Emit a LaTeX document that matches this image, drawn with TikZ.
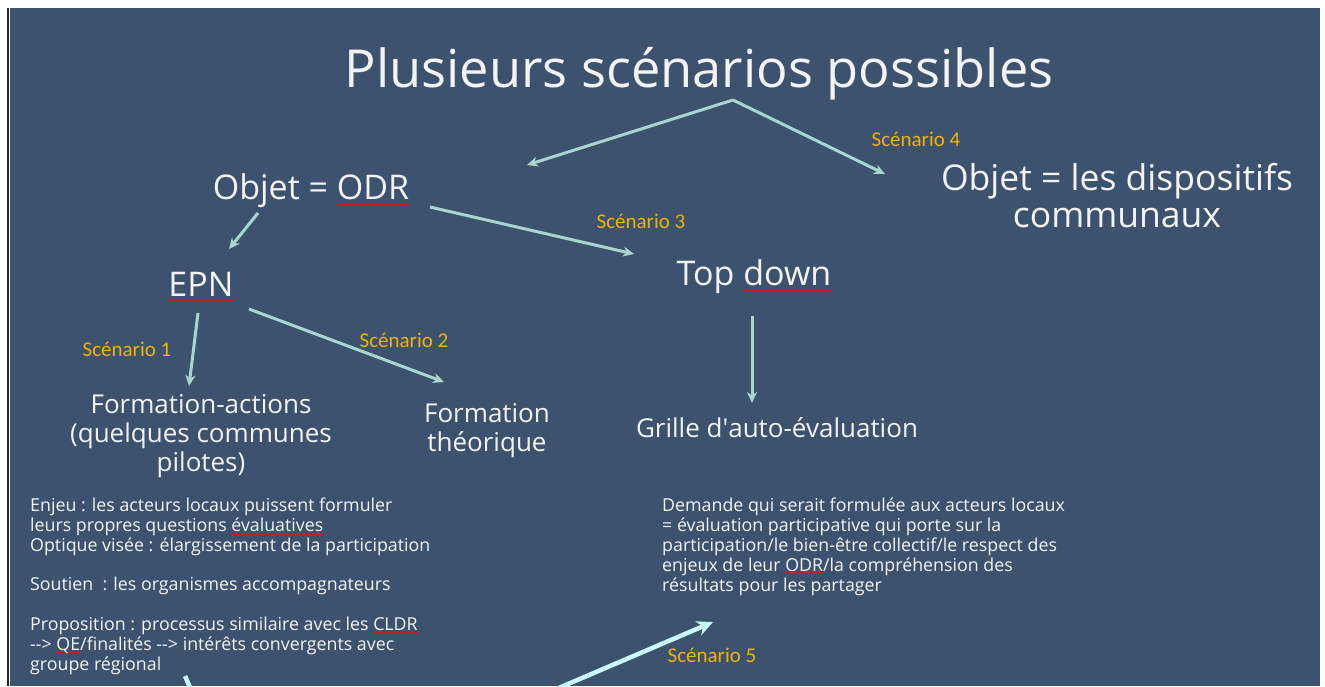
\documentclass[tikz,border=0pt]{standalone}
\usepackage{fontspec}
\setmainfont{Open Sans}
\newfontfamily\calib{Carlito}
\usetikzlibrary{arrows.meta}

\definecolor{slide}{RGB}{61,82,110}
\definecolor{arrowteal}{RGB}{168,214,206}
\definecolor{brightcyan}{RGB}{200,250,255}
\definecolor{scenorange}{RGB}{240,180,0}
\definecolor{textwhite}{RGB}{243,243,243}
\definecolor{spellred}{RGB}{205,25,35}
\definecolor{frameline}{RGB}{35,40,46}

% red spell-check underline
\newsavebox{\redbox}
\newcommand{\redul}[1]{\leavevmode\sbox{\redbox}{#1}\rlap{\color{spellred}\rule[-0.18em]{\wd\redbox}{\dimexpr1.4pt+0.03em\relax}}\usebox{\redbox}}

\begin{document}
\begin{tikzpicture}[x=1pt, y=-1pt, >={Stealth[length=11pt,width=10pt]},
  label/.style={text=textwhite, inner sep=0pt, anchor=base},
  big/.style={label, font=\fontsize{34}{37}\selectfont, align=center},
  mid/.style={label, font=\fontsize{26}{29}\selectfont, align=center},
  small/.style={text=textwhite, inner sep=0pt, anchor=base west, align=left, font=\fontsize{17.8}{19.8}\selectfont},
  scen/.style={text=scenorange, inner sep=0pt, font=\calib\fontsize{21}{24}\selectfont},
  link/.style={->, draw=arrowteal, line width=3pt},
  boldlink/.style={-{Stealth[length=16pt,width=15pt]}, draw=brightcyan, line width=4.5pt}]

  \path[use as bounding box] (0,0) rectangle (1325,686);
  \clip (0,0) rectangle (1325,686);
  \fill[white] (0,0) rectangle (1325,686);
  \fill[slide] (10,8) rectangle (1320,686);
  \fill[frameline] (7,8) rectangle (9.3,686);

  %coordinates
  \coordinate (fork)     at (733,100);
  \coordinate (odrTip)   at (527,165);
  \coordinate (comTip)   at (885,174);
  \coordinate (odrOut)   at (430,207);
  \coordinate (topTip)   at (634,254);
  \coordinate (odrDown)  at (258,213);
  \coordinate (epnTip)   at (229,249);
  \coordinate (epnDown)  at (198,313);
  \coordinate (actTip)   at (189,386);
  \coordinate (epnOut)   at (249,309);
  \coordinate (theoTip)  at (444,382);
  \coordinate (topDown)  at (752,316);
  \coordinate (grilleTip) at (752,403);
  \coordinate (fiveStart) at (540,696);
  \coordinate (fiveTip)  at (713,622);
  \coordinate (stubTop)  at (185,676);
  \coordinate (stubEnd)  at (192,692);

  %nodes (multi-line nodes sit on their last baseline)
  \node[label, font=\fontsize{52.4}{60}\selectfont] (title) at (699,87) {Plusieurs scénarios possibles};
  \node[big] (odr) at (311,199) {Objet = \redul{ODR}};
  \node[big, font=\fontsize{35.5}{37}\selectfont] (communes) at (1117,227) {Objet = les dispositifs\\communaux};
  \node[big] (topdown) at (754,285) {Top \redul{down}};
  \node[big] (epn) at (201,296) {\redul{EPN}};
  \node[mid] (actions) at (201,471) {Formation-actions\\(quelques communes\\pilotes)};
  \node[mid] (theorique) at (487,451) {Formation\\théorique};
  \node[mid] (grille) at (777,437) {Grille d\textquotesingle auto-évaluation};

  \node[small] (enjeu) at (30,670) {Enjeu : les acteurs locaux puissent formuler\\
    leurs propres questions \redul{évaluatives}\\
    Optique visée : élargissement de la participation\\[19.8pt]
    Soutien~ : les organismes accompagnateurs\\[19.8pt]
    Proposition : processus similaire avec les \redul{CLDR}\\
    {-}{-}> \redul{QE}/finalités {-}{-}> intérêts convergents avec\\
    groupe régional};
  \node[small] (demande) at (662,591) {Demande qui serait formulée aux acteurs locaux\\
    = évaluation participative qui porte sur la\\
    participation/le bien-être collectif/le respect des\\
    enjeux de leur \redul{ODR}/la compréhension des\\
    résultats pour les partager};

  \node[scen] (s1) at (127,349) {Scénario 1};
  \node[scen] (s2) at (404,340) {Scénario 2};
  \node[scen] (s3) at (641,221) {Scénario 3};
  \node[scen] (s4) at (916,139) {Scénario 4};
  \node[scen] (s5) at (712,655) {Scénario 5};

  \draw[link] (fork) -- (odrTip);
  \draw[link] (fork) -- (comTip);
  \draw[link] (odrDown) -- (epnTip);
  \draw[link] (odrOut) -- (topTip);
  \draw[link] (epnDown) -- (actTip);
  \draw[link] (epnOut) -- (theoTip);
  \draw[link] (topDown) -- (grilleTip);
  \draw[boldlink] (fiveStart) -- (fiveTip);
  \draw[boldlink, -] (stubTop) -- (stubEnd);

\end{tikzpicture}
\end{document}
